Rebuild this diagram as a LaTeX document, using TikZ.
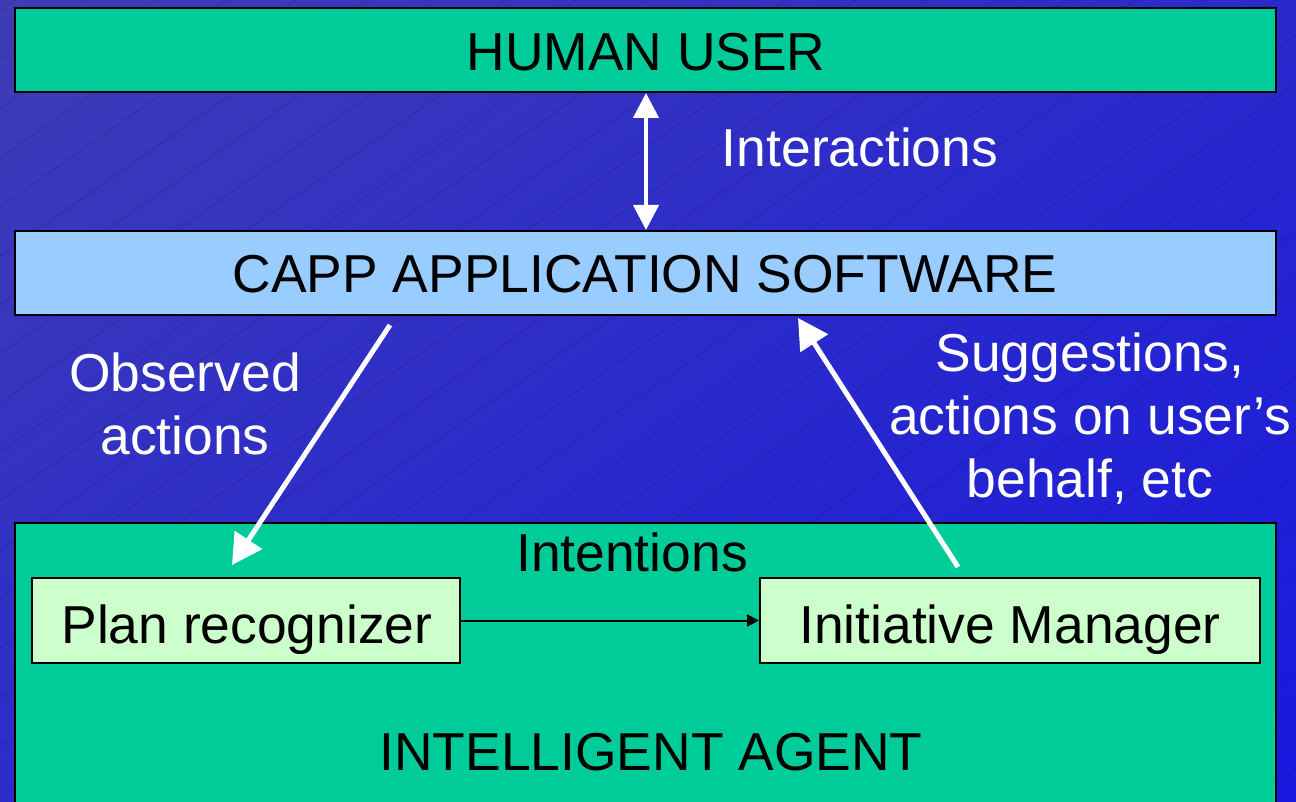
\documentclass[tikz,border=0pt]{standalone}
\usepackage{fontspec}
\setmainfont{Liberation Sans}
\usetikzlibrary{arrows.meta}
\definecolor{boxgreen}{HTML}{00CC99}
\definecolor{boxblue}{HTML}{99CCFF}
\definecolor{boxpale}{HTML}{CCFFCC}
\definecolor{bgtop}{HTML}{3E3DB6}
\definecolor{bgbot}{HTML}{1818E0}
\newcommand{\bigtext}{\fontsize{26.7}{31.5}\selectfont}
\tikzset{
  box/.style={draw=black, line width=1pt, rectangle, inner sep=0pt},
  plain/.style={inner sep=0pt, font=\bigtext, text depth=0pt},
  label/.style={text=white, align=center, inner sep=0pt, font=\bigtext},
  flow/.style={draw=white, line width=2.5pt, -{Triangle[width=16pt,length=15pt]}},
  link/.style={draw=white, line width=2pt, {Triangle[width=12.5pt,length=12.5pt]}-{Triangle[width=12.5pt,length=12.5pt]}},
  thin/.style={draw=black, line width=1pt, -{Triangle[width=6pt,length=6pt]}},
}
\begin{document}
\begin{tikzpicture}[x=0.5pt, y=-0.5pt]
  % canvas
  \useasboundingbox (0,0) rectangle (1296,802);
  \clip (0,0) rectangle (1296,802);
  \shade[top color=bgtop, bottom color=bgbot, shading angle=35] (-200,-200) rectangle (1500,1000);
  % faint diagonal texture
  \foreach \k in {-1200,-1130,...,1300}
    \draw[black, opacity=0.18, line width=0.3pt] (\k,802) -- ++(1146,-802);

  % boxes
  \node[box, fill=boxgreen, minimum width=630.5pt, minimum height=42pt] (human) at (645.5,50) {};
  \node[box, fill=boxblue, minimum width=630.5pt, minimum height=42pt] (capp) at (645.5,273) {};
  \node[box, fill=boxgreen, minimum width=630.5pt, minimum height=143.5pt] (agent) at (645.5,666.5) {};
  \node[box, fill=boxpale, minimum width=214pt, minimum height=42.5pt] (plan) at (246,620.5) {};
  \node[box, fill=boxpale, minimum width=250pt, minimum height=42.5pt] (init) at (1010,620.5) {};

  % box texts
  \node[plain] (humantext) at (646,52) {HUMAN USER};
  \node[plain] (capptext) at (645,274) {CAPP APPLICATION SOFTWARE};
  \node[plain] (plantext) at (247,624) {Plan recognizer};
  \node[plain] (inittext) at (1010,624) {Initiative Manager};
  \node[plain] (agentlabel) at (651,752) {INTELLIGENT AGENT};
  \node[plain] (intentions) at (632,552) {Intentions};

  % labels on the blue background
  \node[label] (interactions) at (860,147) {Interactions};
  \node[label] (observed) at (185,404) {Observed\\actions};
  \node[label] (suggest) at (1090,419) {Suggestions,\\actions on user’s\\behalf, etc};

  % connectors
  \draw[link] (human.south -| 646,0) -- (capp.north -| 646,0);
  \coordinate (obsfrom) at (390,325);
  \coordinate (obsto) at (232,565);
  \draw[flow] (obsfrom) -- (obsto);
  \coordinate (sugfrom) at (958,567);
  \coordinate (sugto) at (798,318);
  \draw[flow] (sugfrom) -- (sugto);
  \draw[thin] (plan.east) -- (init.west);
\end{tikzpicture}
\end{document}
